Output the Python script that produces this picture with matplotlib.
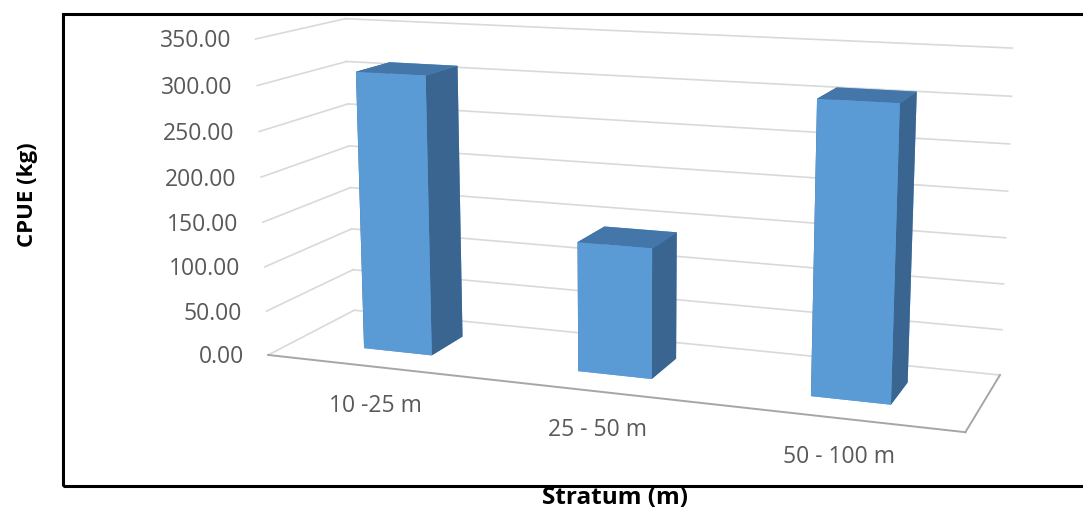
import numpy as np
import matplotlib
matplotlib.use("Agg")
import matplotlib.pyplot as plt
from matplotlib.patches import Rectangle
from matplotlib.transforms import ScaledTranslation
from mpl_toolkits.mplot3d import proj3d

# ---- data ----
categories = ["10 -25 m", "25 - 50 m", "50 - 100 m"]
cpue = [311.0, 142.0, 309.0]
ytick_values = [0, 50, 100, 150, 200, 250, 300, 350]
ytick_labels = ["0.00", "50.00", "100.00", "150.00", "200.00", "250.00", "300.00", "350.00"]
xlabel = "Stratum (m)"
ylabel = "CPUE (kg)"

plt.rcParams['font.family'] = ['Open Sans', 'DejaVu Sans']

W, H = 1083, 511
DPI = 100
fig = plt.figure(figsize=(W / DPI, H / DPI), dpi=DPI)

# 3d axes: square region (pixels) and Excel-like perspective camera
S, cx, cy = 792.9, 617.0, 293.3
ax = fig.add_axes([(cx - S / 2) / W, (cy - S / 2) / H, S / W, S / H],
                  projection='3d', proj_type='persp', focal_length=0.4538,
                  computed_zorder=False)
ax.set_axis_off()
n = len(categories)
zmax = ytick_values[-1]
ax.set_xlim(0, n)
ax.set_ylim(0, 1)
ax.set_zlim(0, zmax)
ax.set_xticks([])
ax.set_yticks([])
ax.set_zticks([])
ax.set_box_aspect((1.0, 0.2609, 0.4540))
ax.view_init(elev=12.074, azim=-69.957)

grid_c = '#d9d9d9'
floor_c = '#a6a6a6'
# gridlines on back wall and left wall
for z in ytick_values:
    ax.plot([0, n], [1, 1], [z, z], color=grid_c, lw=1.2, zorder=1)
    ax.plot([0, 0], [0, 1], [z, z], color=grid_c, lw=1.2, zorder=1)
# floor front and right edges
ax.plot([0, n], [0, 0], [0, 0], color=floor_c, lw=1.4, zorder=2)
ax.plot([n, n], [0, 1], [0, 0], color=floor_c, lw=1.4, zorder=2)

# bars
bw = 0.325
bd = 0.4
xs = np.arange(n) + 0.5 - bw / 2
ys = np.full(n, 0.5 - bd / 2)
zs = np.zeros(n)
front = '#5B9BD5'
side = '#3A6590'
top = '#4576AA'
face_cols = []
for _ in range(n):
    # faces: -z, +z, -y, +y, -x, +x
    face_cols += [front, top, front, front, side, side]
ax.bar3d(xs, ys, zs, np.full(n, bw), np.full(n, bd), cpue,
         color=face_cols, shade=False, linewidth=0, zorder=5)

# project label anchor points with the axes' own 3d projection
M = ax.get_proj()
zt = np.asarray(ytick_values, float)
tu, tv, _ = proj3d.proj_transform(np.zeros_like(zt), np.zeros_like(zt), zt, M)
xc = np.arange(n) + 0.5
cu, cv, _ = proj3d.proj_transform(xc, np.zeros(n), np.zeros(n), M)

# value-axis labels at the front edge of the left wall
off_y = ax.transData + ScaledTranslation(-24.5 / DPI, -8.5 / DPI, fig.dpi_scale_trans)
for u, v, lab in zip(tu, tv, ytick_labels):
    ax.text2D(u, v, lab, ha='right', va='baseline', fontsize=16.5,
              color='#595959', transform=off_y)

# category labels below the floor front edge
off_x = ax.transData + ScaledTranslation(3 / DPI, -45 / DPI, fig.dpi_scale_trans)
for u, v, lab in zip(cu, cv, categories):
    ax.text2D(u, v, lab, ha='center', va='baseline', fontsize=16.5,
              color='#595959', transform=off_x)

# outer frame (right edge lies outside the picture)
fig.patches.append(Rectangle((63 / W, 1 - 486 / H), 1.2, (486 - 14) / H,
                             transform=fig.transFigure, fill=False,
                             edgecolor='black', lw=2.2, zorder=10))

fig.text(27 / W, 1 - 195 / H, ylabel, rotation=90, ha='center', va='center',
         fontsize=16, fontweight='bold')
fig.text(615 / W, 1 - 504 / H, xlabel, ha='center', va='baseline',
         fontsize=17.5, fontweight='bold')

fig.savefig('out.png', dpi=DPI)
